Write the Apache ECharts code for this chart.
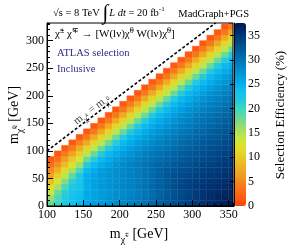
<!DOCTYPE html>
<html><head><meta charset="utf-8">
<script src="https://cdn.jsdelivr.net/npm/echarts@6/dist/echarts.min.js"></script>
<style>html,body{margin:0;padding:0;background:#fff}#c{width:291px;height:251px}</style>
</head><body><div id="c"></div><script>
// ---- data ----
const binWidth = 10; // GeV
const mCharginoEdges = [100,110,120,130,140,150,160,170,180,190,200,210,220,230,240,250,260,270,280,290,300,310,320,330,340,350];
const mNeutralinoEdges = [0,10,20,30,40,50,60,70,80,90,100,110,120,130,140,150,160,170,180,190,200,210,220,230,240,250,260,270,280,290,300,310,320,330];
// selection efficiency (%) per chargino column, from m_chi0 = 0 upward
const efficiency = [
 [18,16,14,12,9,7,5,3,1.5],
 [20,19.5,18,15.5,13,10.5,8,5.5,3.5,1.5],
 [22,21.5,21,19.5,17,14.5,11.5,9,6.5,4,1.5],
 [23.5,23,22.5,22,21,18.5,15.5,12.5,10,7,4,1.5],
 [24.5,24,23.5,23,22.5,22,19.5,16,13,10.5,7.5,4.5,1.5],
 [25.8,25.5,25.6,25.3,25.4,25.2,24.3,21.5,18,14.5,11,7.5,4,1.5],
 [26.4,26.2,26,26.3,26.1,26,25.5,24.3,21.5,18,14.5,11,7.5,4,1.5],
 [27,26.8,26.6,26.9,26.7,26.8,26.5,25.5,24.3,21.5,18,14.5,11,7.5,4,1.5],
 [27.5,27.3,27.1,27.4,27.2,27.3,27.2,26.5,25.5,24.3,21.5,18,14.5,11,7.5,4,1.5],
 [28,27.8,27.6,27.9,27.7,27.8,27.7,27.3,26.5,25.5,24.3,21.5,18,14.5,11,7.5,4,1.5],
 [28.5,28.3,28.1,28.4,28.2,28.3,28.3,28.2,27.4,26.5,25.5,24.3,21.5,18,14.5,11,7.5,4,1.5],
 [29,28.8,28.6,28.9,28.7,28.8,28.8,28.7,28.2,27.4,26.5,25.5,24.3,21.5,18,14.5,11,7.5,4,1.5],
 [29.6,29.4,29.2,29.5,29.3,29.4,29.4,29.4,28.9,28.2,27.4,26.5,25.5,24.3,21.5,18,14.5,11,7.5,4,1.5],
 [30.2,30,29.8,30.1,29.9,30,30,30,29.5,28.9,28.2,27.4,26.5,25.5,24.3,21.5,18,14.5,11,7.5,4,1.5],
 [30.9,30.7,30.5,30.8,30.6,30.7,30.7,30.6,30.1,29.5,28.9,28.2,27.4,26.5,25.5,24.3,21.5,18,14.5,11,7.5,4,1.5],
 [31.7,31.5,31.3,31.6,31.4,31.5,31.5,31.2,30.7,30.1,29.5,28.9,28.2,27.4,26.5,25.5,24.3,21.5,18,14.5,11,7.5,4,1.5],
 [32.5,32.3,32.1,32.4,32.2,32.3,32.2,31.7,31.2,30.7,30.1,29.5,28.9,28.2,27.4,26.5,25.5,24.3,21.5,18,14.5,11,7.5,4,1.5],
 [33.2,33,32.8,33.1,32.9,33,32.6,32.2,31.7,31.2,30.7,30.1,29.5,28.9,28.2,27.4,26.5,25.5,24.3,21.5,18,14.5,11,7.5,4,1.5],
 [33.8,33.6,33.4,33.7,33.5,33.4,33,32.6,32.2,31.7,31.2,30.7,30.1,29.5,28.9,28.2,27.4,26.5,25.5,24.3,21.5,18,14.5,11,7.5,4,1.5],
 [34.4,34.2,34,34.3,34.2,33.8,33.4,33,32.6,32.2,31.7,31.2,30.7,30.1,29.5,28.9,28.2,27.4,26.5,25.5,24.3,21.5,18,14.5,11,7.5,4,1.5],
 [35,34.8,34.6,34.8,34.6,34.2,33.8,33.4,33,32.6,32.2,31.7,31.2,30.7,30.1,29.5,28.9,28.2,27.4,26.5,25.5,24.3,21.5,18,14.5,11,7.5,4,1.5],
 [35.6,35.4,35.3,35.2,34.9,34.6,34.2,33.8,33.4,33,32.6,32.2,31.7,31.2,30.7,30.1,29.5,28.9,28.2,27.4,26.5,25.5,24.3,21.5,18,14.5,11,7.5,4,1.5],
 [36.1,35.9,35.8,35.5,35.2,34.9,34.6,34.2,33.8,33.4,33,32.6,32.2,31.7,31.2,30.7,30.1,29.5,28.9,28.2,27.4,26.5,25.5,24.3,21.5,18,14.5,11,7.5,4,1.5],
 [36.6,36.4,36.1,35.8,35.5,35.2,34.9,34.6,34.2,33.8,33.4,33,32.6,32.2,31.7,31.2,30.7,30.1,29.5,28.9,28.2,27.4,26.5,25.5,24.3,21.5,18,14.5,11,7.5,4,1.5],
 [37.1,36.7,36.4,36.1,35.8,35.5,35.2,34.9,34.6,34.2,33.8,33.4,33,32.6,32.2,31.7,31.2,30.7,30.1,29.5,28.9,28.2,27.4,26.5,25.5,24.3,21.5,18,14.5,11,7.5,4,1.5],
 [37.3,36.9,36.7,36.4,36.1,35.8,35.5,35.2,34.9,34.6,34.2,33.8,33.4,33,32.6,32.2,31.7,31.2,30.7,30.1,29.5,28.9,28.2,27.4,26.5,25.5,24.3,21.5,18,14.5,11,7.5,4,1.5]
];
const diagonalLine = [[100,100],[332,332]];
const diagonalLabelAt = [[161,176]];
const xTicks = [100,150,200,250,300,350];
const yTicks = [0,50,100,150,200,250,300];
const zTicks = [0,5,10,15,20,25,30,35];
const xRange = [100,356], yRange = [0,332], zRange = [0,37.6];

// ---- build ----
const cells = [];
efficiency.forEach((col, i) => col.forEach((v, j) => cells.push([mCharginoEdges[i], mNeutralinoEdges[j], v])));

const serif = 'Liberation Serif';
const palette = ['#ff4010','#ff6010','#f87818','#f09820','#ecb020','#e8c828','#e2e024','#c8e840','#a0e064','#70d890',
  '#40d8c0','#20c8e0','#10c0f0','#00a8e8','#0090d0','#0078b8','#0060a0','#004888','#003070','#001850'];

function renderCell(params, api) {
  const x0 = api.value(0), y0 = api.value(1);
  const p0 = api.coord([x0, y0]);
  const p1 = api.coord([x0 + binWidth, y0 + binWidth]);
  const cs = params.coordSys;
  const shape = echarts.graphic.clipRectByRect(
    {x: p0[0], y: p1[1], width: p1[0] - p0[0], height: p0[1] - p1[1]},
    {x: cs.x, y: cs.y, width: cs.width, height: cs.height});
  if (!shape) return;
  const c = api.visual('color');
  return {type: 'rect', shape: shape, style: {fill: c, stroke: c, lineWidth: 0.4}};
}

function titleRich(fs) {
  return {
    n: {fontSize: fs, lineHeight: fs + 2, padding: [2,0,0,0], verticalAlign: 'top', fontFamily: serif, fill: '#000', color: '#000'},
    sub: {fontSize: Math.round(fs * 0.72), lineHeight: Math.round(fs * 0.72), padding: [Math.round(fs * 0.72),0,0,0], verticalAlign: 'top', fontFamily: serif, fill: '#000', color: '#000'},
    ss: {fontSize: Math.round(fs * 0.5), lineHeight: Math.round(fs * 0.5), padding: [Math.round(fs * 0.45),0,0,0], verticalAlign: 'top', fontFamily: serif, fill: '#000', color: '#000'}
  };
}

const option = {
  animation: false,
  textStyle: {fontFamily: serif, color: '#000'},
  grid: [
    {left: 47, top: 23, width: 186, height: 183, show: true, borderColor: '#000', borderWidth: 1, backgroundColor: 'transparent', z: 5},
    {left: 234, top: 23, width: 12, height: 183, show: false}
  ],
  xAxis: [
    {type: 'value', gridIndex: 0, min: xRange[0], max: xRange[1], interval: 50, z: 6,
     axisLine: {show: true, lineStyle: {color: '#000'}},
     axisTick: {inside: true, length: 6, lineStyle: {color: '#000'}},
     axisLabel: {fontSize: 12, fontFamily: serif, color: '#000', margin: 3, showMaxLabel: false,
       formatter: v => xTicks.includes(v) ? String(v) : ''},
     splitLine: {show: false}},
    {type: 'value', gridIndex: 0, min: xRange[0], max: xRange[1], interval: 10, position: 'bottom', z: 6,
     axisLine: {show: false}, axisTick: {inside: true, length: 3, lineStyle: {color: '#000'}},
     axisLabel: {show: false}, splitLine: {show: false}},
    {type: 'value', gridIndex: 1, show: false, min: 0, max: 1}
  ],
  yAxis: [
    {type: 'value', gridIndex: 0, min: yRange[0], max: yRange[1], interval: 50, z: 6,
     axisLine: {show: true, lineStyle: {color: '#000'}},
     axisTick: {inside: true, length: 6, lineStyle: {color: '#000'}},
     axisLabel: {fontSize: 12, fontFamily: serif, color: '#000', margin: 3, showMaxLabel: false,
       formatter: v => yTicks.includes(v) ? String(v) : ''},
     splitLine: {show: false}},
    {type: 'value', gridIndex: 0, min: yRange[0], max: yRange[1], interval: 10, position: 'left', z: 6,
     axisLine: {show: false}, axisTick: {inside: true, length: 3, lineStyle: {color: '#000'}},
     axisLabel: {show: false}, splitLine: {show: false}},
    {type: 'value', gridIndex: 1, min: zRange[0], max: zRange[1], interval: 5, position: 'right', z: 10,
     axisLine: {show: true, lineStyle: {color: '#000'}},
     axisTick: {inside: true, length: 4, lineStyle: {color: '#000'}},
     axisLabel: {fontSize: 12, fontFamily: serif, color: '#000', margin: 2, showMaxLabel: false,
       formatter: v => zTicks.includes(v) ? String(v) : ''},
     splitLine: {show: false}}
  ],
  visualMap: {
    type: 'continuous', min: zRange[0], max: zRange[1], dimension: 2, seriesIndex: 0,
    calculable: false, realtime: false, hoverLink: false,
    left: 234, top: 23, itemWidth: 12, itemHeight: 183, padding: 0, text: null, showLabel: false,
    inRange: {color: palette}, z: 4
  },
  series: [
    {type: 'custom', xAxisIndex: 0, yAxisIndex: 0, renderItem: renderCell, data: cells,
     encode: {x: 0, y: 1}, dimensions: ['mC', 'mN', 'eff'], z: 2, silent: true},
    {type: 'line', xAxisIndex: 0, yAxisIndex: 0, data: diagonalLine, symbol: 'none', z: 3, silent: true,
     lineStyle: {color: '#000', width: 1.6, type: [3, 2]}},
    {type: 'scatter', xAxisIndex: 0, yAxisIndex: 0, data: diagonalLabelAt, symbolSize: 0, z: 4, silent: true,
     label: {show: true, position: 'inside', rotate: 37.2,
       formatter: '{n|m}{sub|χ̃}{ss|±}{n| = m}{sub|χ̃}{ss|0}', rich: titleRich(11)}}
  ],
  graphic: [
    {type: 'text', x: 53, y: 1, z: 20, style: {
      text: '{n|√s = 8 TeV }{big|∫}{i|L dt}{n| = 20 fb}{sup|-1}', align: 'left', verticalAlign: 'top',
      rich: {
        n: {fontSize: 10.5, lineHeight: 12, padding: [7,0,0,0], verticalAlign: 'top', fontFamily: serif, fill: '#000'},
        i: {fontSize: 10.5, lineHeight: 12, padding: [7,0,0,0], verticalAlign: 'top', fontFamily: serif, fontStyle: 'italic', fill: '#000'},
        big: {fontSize: 21, lineHeight: 22, padding: [2,1,0,0], verticalAlign: 'top', fontFamily: serif, fill: '#000'},
        sup: {fontSize: 7, lineHeight: 7, padding: [5,0,0,0], verticalAlign: 'top', fontFamily: serif, fill: '#000'}
      }}},
    {type: 'text', x: 249, y: 14, z: 20, style: {text: 'MadGraph+PGS', font: '10.5px "Liberation Serif"', fill: '#000', align: 'right', verticalAlign: 'middle'}},
    {type: 'text', x: 55, y: 26, z: 20, style: {
      text: '{n|χ̃}{sup|±}{n| χ̃}{sup|∓}{n| → [W(lν)χ̃}{sup|0}{n| W(lν)χ̃}{sup|0}{n|]}', align: 'left', verticalAlign: 'top',
      rich: {
        n: {fontSize: 11, lineHeight: 13, padding: [3,0,0,0], verticalAlign: 'top', fontFamily: serif, fill: '#000'},
        sup: {fontSize: 8, lineHeight: 8, padding: [1,0,0,0], verticalAlign: 'top', fontFamily: serif, fill: '#000'}
      }}},
    {type: 'text', x: 57, y: 53, z: 20, style: {text: 'ATLAS selection', font: '10.5px "Liberation Serif"', fill: '#2b2b8b', align: 'left', verticalAlign: 'middle'}},
    {type: 'text', x: 57, y: 69, z: 20, style: {text: 'Inclusive', font: '10.5px "Liberation Serif"', fill: '#2b2b8b', align: 'left', verticalAlign: 'middle'}},
    {type: 'text', x: 139, y: 233, z: 20, style: {
      text: '{n|m}{sub|χ̃}{ss|±}{n| [GeV]}', align: 'center', verticalAlign: 'middle', rich: titleRich(14)}},
    {type: 'text', x: 13, y: 115, rotation: Math.PI / 2, z: 20, style: {
      text: '{n|m}{sub|χ̃}{ss|0}{n| [GeV]}', align: 'center', verticalAlign: 'middle', rich: titleRich(14)}},
    {type: 'text', x: 281, y: 115, rotation: Math.PI / 2, z: 20, style: {
      text: 'Selection Efficiency (%)', font: '13px "Liberation Serif"', fill: '#000', align: 'center', verticalAlign: 'middle'}}
  ]
};
const chart = echarts.init(document.getElementById('c'), null, {renderer: 'canvas'});
chart.setOption(option);
</script></body></html>
